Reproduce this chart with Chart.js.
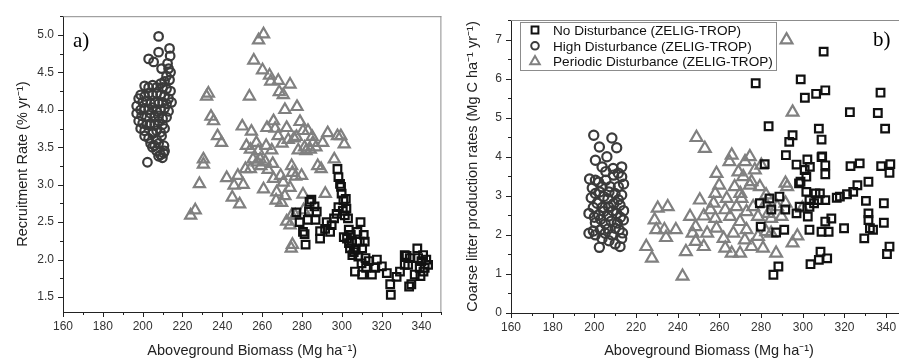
<!DOCTYPE html>
<html>
<head>
<meta charset="utf-8">
<script src="https://cdn.jsdelivr.net/npm/chart.js@4.4.1/dist/chart.umd.min.js"></script>
<style>
  html, body { margin: 0; padding: 0; background: #fff; overflow: hidden; }
  #wrap { position: relative; width: 899px; height: 362px; overflow: hidden; }
  #panelA { position: absolute; left: 0; top: 0; }
  #panelB { position: absolute; left: 450px; top: 0; }
</style>
</head>
<body>
<div id="wrap">
  <canvas id="panelA" width="450" height="362"></canvas>
  <canvas id="panelB" width="466" height="362"></canvas>
</div>
<script>
    // ---- data: [biomass, value] ----
    const seriesLabels = ['No Disturbance (ZELIG-TROP)', 'High Disturbance (ZELIG-TROP)', 'Periodic Disturbance (ZELIG-TROP)'];

    // panel a) recruitment rate (% yr-1)
    const recruitNoDist = [[277.2,2.63],[278.8,2.5],[280.5,2.37],[281.8,2.2],[281.3,2.34],[283.8,2.77],[283.5,2.64],[284.7,2.8],[286.3,2.71],[287.4,2.64],[286.8,2.53],[282.9,2.53],[289.1,2.28],[289.1,2.38],[291.6,2.41],[292.4,2.5],[294.1,2.37],[294.9,2.46],[296.1,2.55],[297.4,2.61],[298.3,2.7],[297.8,3.21],[298.3,3.1],[299.1,3.01],[299.6,2.97],[299.9,2.88],[300.8,2.79],[302,2.81],[302.3,2.68],[301.5,2.59],[303.1,2.55],[302.6,2.28],[303.6,2.22],[304.5,2.33],[304.1,2.15],[305.3,2.06],[307,2.13],[308.3,2.04],[307.8,2.37],[309,2.24],[309.4,2.5],[310.2,2.15],[311,2.33],[311.5,2.24],[311.9,2.02],[309.9,1.95],[312.2,1.89],[313.5,1.98],[317.6,2.0],[320.1,1.91],[322.6,1.82],[324.3,1.67],[324.6,1.53],[327.5,1.77],[329.2,1.84],[331.6,2.06],[333.3,1.93],[333.8,1.64],[334.9,1.67],[336.6,1.8],[337.9,2.15],[338.3,2.02],[339.1,1.89],[340,1.98],[340.8,2.06],[341.6,1.89],[342.4,2.0],[343.3,1.93],[331.6,1.93],[334.1,2.02],[316.8,1.89],[315.1,1.8],[310.2,1.8],[306.6,1.84],[303.5,2.4],[305,2.25],[339.5,1.78],[341,1.84],[332.5,2.05],[300.5,2.65],[301,2.3],[306,2.1]];
    const recruitHighDist = [[208,4.98],[213.5,4.82],[208,4.77],[213.8,4.72],[203,4.68],[205.5,4.64],[212.5,4.62],[213,4.55],[209.5,4.55],[214,4.5],[212,4.45],[213.5,4.4],[211,4.38],[209,4.35],[201,4.32],[203,4.3],[205,4.33],[207,4.3],[210,4.3],[212,4.28],[214,4.25],[199,4.2],[201,4.18],[203,4.22],[205,4.2],[207,4.22],[209,4.2],[211,4.18],[213,4.15],[198,4.15],[200,4.1],[202,4.12],[204,4.08],[206,4.1],[208,4.08],[210,4.1],[212,4.08],[214.5,4.1],[197,4.05],[199,4.0],[201,4.02],[203,4.0],[205,4.03],[207,3.98],[209,4.0],[211,4.02],[213,3.98],[197,3.95],[199.5,3.92],[202,3.9],[204,3.95],[206,3.9],[208,3.92],[210,3.88],[212,3.9],[198,3.85],[200,3.82],[202,3.8],[204,3.82],[206,3.8],[208,3.85],[210,3.8],[199,3.75],[201,3.72],[203.5,3.8],[205,3.7],[207,3.72],[209,3.7],[211,3.75],[201,3.65],[203,3.62],[205,3.68],[207,3.6],[209.5,3.65],[204,3.55],[206,3.52],[208,3.55],[210.7,3.52],[204.9,3.5],[211,3.45],[207,3.45],[209,3.4],[210.5,3.42],[208,3.38],[209.9,3.36],[202.4,3.3]];
    const recruitPeriodic = [[224.1,2.59],[226.4,2.66],[228.5,3.01],[230.5,3.34],[230.5,3.27],[232.1,4.18],[233,4.22],[234.3,3.91],[235.6,3.85],[237.6,3.65],[239.6,3.56],[242.2,3.09],[245,2.83],[245.9,2.99],[247.8,3.12],[248.7,2.74],[250.5,3.0],[250,3.78],[253.6,4.18],[254.6,3.71],[254.1,3.47],[255.4,3.34],[254.1,3.21],[255.8,4.66],[258.2,4.93],[260.7,5.01],[260.2,4.53],[261.5,3.31],[262,3.52],[260.7,2.94],[262.4,3.76],[263.7,4.46],[264.3,4.38],[265.7,3.85],[266.5,3.75],[264.8,3.46],[265.3,3.28],[265.7,3.08],[267.3,2.9],[267,2.79],[268.1,4.39],[268.6,4.24],[270.6,4.2],[269.3,3.12],[270.6,3.03],[269.8,2.76],[271.4,4.0],[272.3,3.76],[273.1,3.6],[271.4,2.85],[274,4.34],[274.8,3.25],[275.2,3.16],[274,2.96],[274.8,2.59],[274,2.46],[275.2,2.2],[274.6,2.15],[277.5,4.04],[277.2,3.64],[276.8,3.11],[279,3.84],[278.1,3.46],[280.5,3.72],[281.3,3.5],[279.8,3.12],[280.5,2.87],[283,3.72],[285.1,3.64],[284.2,3.47],[285.5,3.56],[287.9,3.25],[289.6,3.21],[290.4,3.56],[292.9,3.69],[291.7,2.88],[296.2,3.34],[297.8,3.65],[299.5,3.65],[301.2,3.54],[280.8,2.66],[276.6,2.59],[272.3,2.51],[259,3.34],[259.4,3.25],[257.1,3.56],[251.6,3.21],[252.1,3.52],[257.5,3.3],[263,3.2],[268,3.65],[270,3.55],[276,3.62],[282,3.45],[287,3.5],[258,3.45]];

    // panel b) coarse litter production (Mg C ha-1 yr-1)
    const litterNoDist = [[277.4,5.88],[283.6,4.78],[281.7,3.81],[310,6.69],[299,5.98],[301,5.51],[306.4,5.61],[310.8,5.7],[322.6,5.14],[337.3,5.64],[336,5.12],[339.5,4.72],[295.1,4.55],[293.5,4.38],[291.9,4.04],[307.7,4.72],[309,4.44],[309.3,4.01],[302.2,3.93],[303.4,3.74],[310.8,3.78],[310.8,3.55],[300.9,3.66],[297,3.8],[298.2,3.32],[301.7,3.1],[303.2,2.89],[308.2,3.06],[307.6,2.89],[322.9,3.76],[327.3,3.83],[324.2,3.1],[321.2,3.04],[326.2,3.27],[331.5,3.36],[337.6,3.76],[342,3.81],[341.6,3.59],[316.3,2.95],[317.8,2.98],[330.3,2.87],[338.9,2.81],[331.5,2.55],[331.5,2.38],[332.2,2.17],[329.5,1.91],[333.7,2.13],[338.9,2.31],[341.6,1.7],[340.4,1.51],[319.8,2.17],[313.7,2.42],[310.8,2.34],[312.4,2.08],[309,2.08],[303.2,2.13],[302.4,2.47],[297,2.55],[303.2,2.72],[298.5,2.72],[291.6,2.65],[288.8,2.98],[284,2.93],[291.1,2.13],[287.2,2.06],[279.8,2.21],[279.4,2.81],[284.9,2.65],[306.1,3.06],[308.5,1.57],[307.7,1.36],[311.7,1.4],[303.7,1.25],[288.3,1.19],[285.9,0.98],[301.7,3.49],[298.9,3.36],[309,3.99],[305.4,2.81],[310.8,2.89]];
    const litterHighDist = [[199.7,4.55],[208.4,4.48],[202.4,4.25],[210.7,4.23],[206,4.0],[200.5,3.91],[203.7,3.74],[213.1,3.74],[205.5,3.62],[209,3.7],[211.5,3.58],[197.7,3.43],[200.5,3.4],[203.7,3.23],[209.2,3.53],[213.1,3.49],[207.6,3.23],[211.5,3.23],[202,3.35],[205.5,3.4],[214,3.3],[199,3.2],[200.5,3.06],[204.5,2.98],[209.9,3.06],[213.1,3.02],[202.5,3.1],[207,3.1],[198.5,2.95],[211.5,2.9],[206.5,2.92],[201.3,2.81],[206.8,2.72],[212.3,2.76],[203.8,2.7],[209.3,2.8],[199.5,2.7],[214,2.62],[197.4,2.55],[202.1,2.51],[206.8,2.48],[210.7,2.55],[204.5,2.6],[208.8,2.62],[200,2.45],[212.5,2.45],[213.9,2.38],[200.5,2.31],[205.2,2.28],[208,2.35],[203,2.4],[211,2.3],[210,2.17],[197.4,2.04],[202.9,2.13],[205.2,2.04],[211.9,2.13],[208.4,2.0],[199.5,2.1],[213.5,2.05],[206.5,2.15],[203.7,1.91],[210,1.77],[212.3,1.7],[202.4,1.68],[213.1,1.91],[207,1.85],[200.5,2.0]];
    const litterPeriodic = [[292.2,6.99],[295.1,5.14],[249,4.49],[253,4.21],[265.9,4.04],[264.8,3.87],[274.6,4.0],[272.3,3.87],[280.1,3.78],[269.1,3.61],[258.6,3.57],[259.9,3.27],[275.4,3.36],[279.4,3.23],[291.7,3.32],[292.5,3.23],[250.6,2.89],[258,3.06],[270,3.06],[282.4,3.02],[230.4,2.68],[235.2,2.72],[257.2,2.81],[262.8,2.64],[268.2,2.72],[273,2.59],[299.8,2.68],[228.9,2.38],[245.9,2.47],[252.5,2.48],[258,2.42],[265.1,2.47],[269.9,2.34],[278.5,2.47],[284.8,2.42],[229.7,2.13],[233.6,2.13],[239.1,2.13],[234.4,1.93],[247.1,2.04],[258.6,2.17],[266.7,2.04],[273,2.13],[282.4,2.08],[297.4,1.97],[224.9,1.7],[227.6,1.4],[243.9,1.57],[248.6,1.83],[252.5,1.7],[262.8,1.66],[265.9,1.53],[269.9,1.53],[275.4,1.7],[280.9,1.66],[287.2,1.53],[295.1,1.79],[242.3,0.94],[291.7,2.81],[282.2,2.81],[287.7,2.72],[274.6,3.27],[270.6,2.93],[263.5,2.93],[255.7,2.64],[248.6,2.21],[254.1,2.04],[262,1.91],[272.2,1.87],[278.5,1.96],[284.8,2.04],[289.8,2.47],[283.5,2.55],[276.2,2.72],[267.3,3.23],[277,3.66],[271.4,3.49]];

    // axis tick labels
    const xTickLabels = [160, 180, 200, 220, 240, 260, 280, 300, 320, 340];
    const aYTickLabels = [1.5, 2.0, 2.5, 3.0, 3.5, 4.0, 4.5, 5.0];
    const bYTickLabels = [0, 1, 2, 3, 4, 5, 6, 7];

    Chart.defaults.font.family = "'Liberation Sans', Arial, sans-serif";
    Chart.defaults.color = '#333';

    const toXY = (pairs) => pairs.map(p => ({ x: p[0], y: p[1] }));

    function drawMarker(ctx, style, x, y, r) {
        ctx.beginPath();
        if (style === 'rect') {
            const s = r * Math.SQRT1_2;
            ctx.rect(x - s, y - s, 2 * s, 2 * s);
        } else if (style === 'circle') {
            ctx.arc(x, y, r, 0, Math.PI * 2);
        } else {
            for (let k = 0; k < 3; k++) {
                const a = k * 2 * Math.PI / 3;
                const px = x + Math.sin(a) * r, py = y - Math.cos(a) * r;
                if (k === 0) ctx.moveTo(px, py); else ctx.lineTo(px, py);
            }
            ctx.closePath();
        }
        ctx.stroke();
    }

    // frame, outward major/minor ticks, panel letter and boxed legend
    const decorations = {
        id: 'decorations',
        afterDraw(chart, args, opts) {
            const { ctx, chartArea: ca, scales } = chart;
            ctx.save();
            ctx.lineWidth = 1;
            ctx.strokeStyle = '#8c8c8c';
            ctx.beginPath();
            ctx.moveTo(ca.left, ca.top + 0.5);
            ctx.lineTo(ca.right, ca.top + 0.5);
            if (opts.rightFrame) {
                ctx.moveTo(ca.right - 0.5, ca.top);
                ctx.lineTo(ca.right - 0.5, ca.bottom);
            }
            ctx.stroke();

            ctx.strokeStyle = '#222';
            ctx.beginPath();
            const xs = scales.x, ys = scales.y;
            for (let k = Math.ceil(xs.min / opts.xMinor - 1e-6); k * opts.xMinor <= xs.max + 1e-6; k++) {
                const v = k * opts.xMinor;
                const major = Math.abs(v / opts.xMajor - Math.round(v / opts.xMajor)) < 1e-6;
                const px = Math.round(xs.getPixelForValue(v)) + 0.5;
                ctx.moveTo(px, ca.bottom);
                ctx.lineTo(px, ca.bottom + (major ? 5 : 3));
            }
            for (let k = Math.ceil(ys.min / opts.yMinor - 1e-6); k * opts.yMinor <= ys.max + 1e-6; k++) {
                const v = k * opts.yMinor;
                const major = Math.abs(v / opts.yMajor - Math.round(v / opts.yMajor)) < 1e-6;
                const py = Math.round(ys.getPixelForValue(v)) + 0.5;
                ctx.moveTo(ca.left, py);
                ctx.lineTo(ca.left - (major ? 5 : 3), py);
            }
            ctx.stroke();

            // panel letter
            ctx.fillStyle = '#000';
            ctx.font = "21px 'Liberation Serif', 'Times New Roman', serif";
            ctx.textBaseline = 'middle';
            ctx.textAlign = 'left';
            ctx.fillText(opts.letter.text, opts.letter.x, opts.letter.y);

            if (opts.legend) {
                const L = opts.legend;
                ctx.strokeStyle = '#8c8c8c';
                ctx.lineWidth = 1;
                ctx.strokeRect(L.x + 0.5, L.y + 0.5, L.w, L.h);
                ctx.font = "13.6px 'Liberation Sans', Arial, sans-serif";
                chart.data.datasets.forEach((ds, i) => {
                    const cy = L.y + L.first + i * L.step;
                    ctx.strokeStyle = ds.pointBorderColor;
                    ctx.lineWidth = 2;
                    drawMarker(ctx, ds.pointStyle, L.x + L.markX, cy, ds.pointStyle === 'triangle' ? 5.5 : (ds.pointStyle === 'rect' ? 4.8 : 3.8));
                    ctx.fillStyle = '#111';
                    ctx.fillText(ds.label, L.x + L.textX, cy + 1);
                });
            }
            ctx.restore();
        }
    };

    function makeDatasets(squares, circles, triangles, big) {
        const base = { showLine: false, pointBackgroundColor: 'rgba(0,0,0,0)', pointBorderWidth: 2.2, pointHoverRadius: 0 };
        return [
            Object.assign({}, base, { label: seriesLabels[0], data: toXY(squares), pointStyle: 'rect', pointRadius: 5.4, pointBorderColor: '#111' }),
            Object.assign({}, base, { label: seriesLabels[1], data: toXY(circles), pointStyle: 'circle', pointRadius: big ? 4.6 : 4.3, pointBorderColor: '#3b3b3b' }),
            Object.assign({}, base, { label: seriesLabels[2], data: toXY(triangles), pointStyle: 'triangle', pointRadius: big ? 6.8 : 6.4, pointBorderColor: '#808080' })
        ];
    }

    function makeScales(opt) {
        return {
            x: {
                type: 'linear', min: opt.xMin, max: opt.xMax,
                afterBuildTicks: (s) => { s.ticks = xTickLabels.map(v => ({ value: v })); },
                afterFit: (s) => { s.height = opt.xAxisH; },
                ticks: { padding: 7, font: { size: 12 }, color: '#333', maxRotation: 0, autoSkip: false },
                grid: { drawOnChartArea: false, drawTicks: false },
                border: { color: '#222', width: 1 },
                title: { display: true, text: 'Aboveground Biomass (Mg ha\u207B\u00B9)', font: { size: 14.5 }, color: '#222', padding: { top: 0, bottom: 2 } }
            },
            y: {
                type: 'linear', min: opt.yMin, max: opt.yMax,
                afterBuildTicks: (s) => { s.ticks = opt.yTicks.map(v => ({ value: v })); },
                afterFit: (s) => { s.width = opt.yAxisW; },
                ticks: { padding: 9, font: { size: 12 }, color: '#333', callback: opt.yFmt },
                grid: { drawOnChartArea: false, drawTicks: false },
                border: { color: '#222', width: 1 },
                title: { display: true, text: opt.yTitle, font: { size: 14.5 }, color: '#222', padding: { top: 14, bottom: 0 } }
            }
        };
    }

    new Chart(document.getElementById('panelA'), {
        type: 'scatter',
        data: { datasets: makeDatasets(recruitNoDist, recruitHighDist, recruitPeriodic, false) },
        options: {
            responsive: false, animation: false, devicePixelRatio: 1,
            layout: { padding: { top: 11, right: 3, left: 0, bottom: 0 } },
            plugins: {
                legend: { display: false }, tooltip: { enabled: false },
                decorations: { rightFrame: true, xMinor: 10, xMajor: 20, yMinor: 0.25, yMajor: 0.5, letter: { text: 'a)', x: 73, y: 41 } }
            },
            scales: makeScales({ xMin: 160, xMax: 350, yMin: 1.3, yMax: 5.25, yTicks: aYTickLabels, yAxisW: 63, xAxisH: 50,
                yFmt: (v) => Number(v).toFixed(1), yTitle: 'Recruitment Rate (% yr\u207B\u00B9)' })
        },
        plugins: [decorations]
    });

    new Chart(document.getElementById('panelB'), {
        type: 'scatter',
        data: { datasets: makeDatasets(litterNoDist, litterHighDist, litterPeriodic, true) },
        options: {
            responsive: false, animation: false, devicePixelRatio: 1,
            layout: { padding: { top: 20, right: 3, left: 0, bottom: 0 } },
            plugins: {
                legend: { display: false }, tooltip: { enabled: false },
                decorations: { rightFrame: false, xMinor: 10, xMajor: 20, yMinor: 0.5, yMajor: 1, letter: { text: 'b)', x: 423, y: 40 },
                    legend: { x: 70, y: 22, w: 256, h: 48, markX: 15, textX: 33, first: 8, step: 15.8 } }
            },
            scales: makeScales({ xMin: 160, xMax: 350, yMin: 0, yMax: 7.5, yTicks: bYTickLabels, yAxisW: 61, xAxisH: 49,
                yFmt: (v) => String(v), yTitle: 'Coarse litter production rates (Mg C ha\u207B\u00B9 yr\u207B\u00B9)' })
        },
        plugins: [decorations]
    });
</script>
</body>
</html>
